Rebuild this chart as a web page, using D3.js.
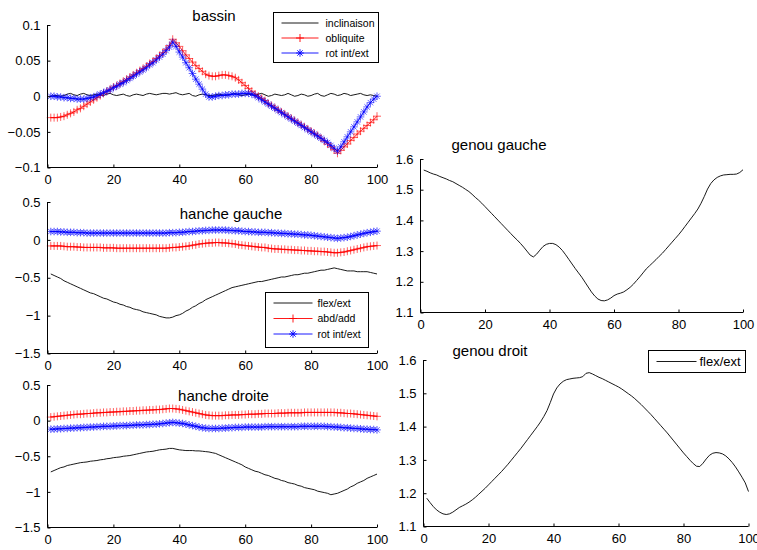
<!DOCTYPE html>
<html><head><meta charset="utf-8">
<script src="https://cdn.jsdelivr.net/npm/d3@7"></script>
<style>
body{margin:0;background:#fff}
svg{display:block}
text{font-family:"Liberation Sans",Arial,Helvetica,sans-serif;fill:#000}
</style>
</head><body>
<svg id="c" width="757" height="550"></svg>
<script>
// ---------------- DATA ----------------
const xTicks = [0, 20, 40, 60, 80, 100];
const xTickLabels = ["0", "20", "40", "60", "80", "100"];

const bassinTicks = [-0.1, -0.05, 0, 0.05, 0.1];
const bassinTickLabels = ["\u22120.1", "\u22120.05", "0", "0.05", "0.1"];
const hancheTicks = [-1.5, -1, -0.5, 0, 0.5];
const hancheTickLabels = ["\u22121.5", "\u22121", "\u22120.5", "0", "0.5"];
const genouTicks = [1.1, 1.2, 1.3, 1.4, 1.5, 1.6];
const genouTickLabels = ["1.1", "1.2", "1.3", "1.4", "1.5", "1.6"];

const titles = ["bassin", "hanche gauche", "hanche droite", "genou gauche", "genou droit"];
const bassinLegend = ["inclinaison", "obliquite", "rot int/ext"];
const hancheLegend = ["flex/ext", "abd/add", "rot int/ext"];
const genouLegend = ["flex/ext"];

// bassin (x = 1..100)
const bassinInclinaison = [0.000,0.001,0.001,0.000,0.001,0.003,0.004,0.002,0.001,0.003,
 0.004,0.002,0.001,0.002,0.003,0.002,0.001,0.003,0.004,0.002,
 0.001,0.002,0.003,0.001,0.000,0.002,0.003,0.002,0.001,0.003,
 0.004,0.003,0.002,0.003,0.004,0.004,0.003,0.004,0.005,0.003,
 0.002,0.003,0.004,0.001,0.000,0.002,0.003,0.002,0.001,0.001,
 0.002,0.003,0.002,0.001,0.002,0.003,0.004,0.002,0.001,0.002,
 0.003,0.002,0.001,0.003,0.004,0.002,0.000,0.001,0.003,0.002,
 0.001,0.002,0.004,0.002,0.000,0.001,0.003,0.002,0.000,0.001,
 0.003,0.004,0.001,0.000,0.002,0.004,0.003,0.001,0.002,0.004,
 0.003,0.001,0.002,0.003,0.004,0.002,0.001,0.002,0.001,0.000];
const bassinObliquite = [-0.030,-0.030,-0.030,-0.029,-0.028,-0.026,-0.024,-0.022,-0.019,-0.017,
 -0.014,-0.011,-0.008,-0.005,-0.002,0.001,0.004,0.007,0.010,0.013,
 0.015,0.018,0.021,0.024,0.027,0.030,0.033,0.036,0.039,0.042,
 0.046,0.049,0.053,0.057,0.061,0.066,0.071,0.080,0.075,0.070,
 0.064,0.058,0.053,0.048,0.043,0.039,0.035,0.031,0.029,0.028,
 0.028,0.029,0.030,0.030,0.029,0.028,0.026,0.023,0.019,0.015,
 0.011,0.007,0.003,0.000,-0.003,-0.006,-0.010,-0.013,-0.016,-0.019,
 -0.022,-0.025,-0.028,-0.031,-0.034,-0.037,-0.040,-0.043,-0.046,-0.049,
 -0.052,-0.055,-0.059,-0.063,-0.067,-0.071,-0.075,-0.080,-0.076,-0.071,
 -0.067,-0.062,-0.058,-0.053,-0.049,-0.045,-0.041,-0.037,-0.033,-0.028];
const bassinRot = [0.000,0.000,-0.001,-0.001,-0.002,-0.002,-0.003,-0.003,-0.004,-0.004,
 -0.004,-0.003,-0.002,-0.001,0.001,0.003,0.005,0.007,0.009,0.012,
 0.014,0.017,0.019,0.022,0.025,0.028,0.031,0.034,0.037,0.040,
 0.044,0.047,0.051,0.055,0.059,0.064,0.069,0.076,0.070,0.062,
 0.055,0.047,0.040,0.032,0.024,0.017,0.010,0.003,-0.001,-0.001,
 0.000,0.001,0.001,0.002,0.002,0.003,0.003,0.003,0.004,0.004,
 0.004,0.003,0.001,-0.002,-0.005,-0.008,-0.011,-0.014,-0.017,-0.020,
 -0.023,-0.026,-0.029,-0.032,-0.035,-0.038,-0.041,-0.044,-0.047,-0.050,
 -0.053,-0.056,-0.059,-0.062,-0.065,-0.069,-0.073,-0.077,-0.071,-0.064,
 -0.057,-0.050,-0.043,-0.036,-0.029,-0.022,-0.015,-0.009,-0.004,0.000];

// hanche gauche
const hgFlex = [-0.45,-0.47,-0.49,-0.51,-0.54,-0.56,-0.58,-0.60,-0.62,-0.64,
 -0.66,-0.68,-0.70,-0.71,-0.73,-0.75,-0.77,-0.78,-0.80,-0.82,
 -0.83,-0.85,-0.86,-0.88,-0.89,-0.91,-0.92,-0.93,-0.95,-0.96,
 -0.97,-0.98,-0.99,-1.01,-1.02,-1.03,-1.03,-1.02,-1.00,-0.99,
 -0.97,-0.94,-0.92,-0.89,-0.87,-0.84,-0.82,-0.79,-0.77,-0.75,
 -0.73,-0.71,-0.69,-0.67,-0.65,-0.63,-0.62,-0.61,-0.60,-0.59,
 -0.58,-0.57,-0.56,-0.55,-0.55,-0.54,-0.53,-0.52,-0.51,-0.50,
 -0.49,-0.49,-0.48,-0.47,-0.46,-0.46,-0.45,-0.44,-0.44,-0.43,
 -0.42,-0.41,-0.40,-0.40,-0.39,-0.38,-0.37,-0.38,-0.39,-0.40,
 -0.41,-0.41,-0.41,-0.42,-0.42,-0.42,-0.42,-0.43,-0.44,-0.45];
const hgAbd = [-0.08,-0.08,-0.08,-0.08,-0.085,-0.09,-0.09,-0.09,-0.095,-0.095,
 -0.10,-0.10,-0.10,-0.10,-0.10,-0.10,-0.105,-0.105,-0.105,-0.105,
 -0.11,-0.11,-0.11,-0.11,-0.11,-0.11,-0.11,-0.11,-0.11,-0.11,
 -0.11,-0.11,-0.11,-0.11,-0.11,-0.11,-0.105,-0.10,-0.10,-0.095,
 -0.09,-0.085,-0.08,-0.07,-0.065,-0.055,-0.05,-0.045,-0.04,-0.04,
 -0.035,-0.035,-0.04,-0.04,-0.045,-0.05,-0.055,-0.065,-0.07,-0.075,
 -0.08,-0.085,-0.09,-0.095,-0.10,-0.10,-0.11,-0.115,-0.12,-0.12,
 -0.125,-0.125,-0.13,-0.13,-0.135,-0.135,-0.14,-0.14,-0.145,-0.145,
 -0.15,-0.15,-0.155,-0.155,-0.16,-0.165,-0.17,-0.17,-0.165,-0.16,
 -0.15,-0.14,-0.13,-0.12,-0.11,-0.10,-0.09,-0.085,-0.08,-0.075];
const hgRot = [0.11,0.11,0.11,0.105,0.105,0.10,0.10,0.10,0.095,0.095,
 0.095,0.09,0.09,0.09,0.09,0.09,0.09,0.09,0.09,0.09,
 0.09,0.09,0.09,0.09,0.09,0.09,0.09,0.09,0.09,0.09,
 0.09,0.09,0.09,0.09,0.09,0.09,0.095,0.095,0.095,0.10,
 0.10,0.105,0.11,0.11,0.115,0.12,0.12,0.125,0.125,0.13,
 0.13,0.13,0.13,0.13,0.125,0.125,0.12,0.12,0.115,0.11,
 0.11,0.105,0.105,0.10,0.10,0.10,0.095,0.095,0.09,0.09,
 0.085,0.085,0.08,0.08,0.075,0.075,0.07,0.065,0.065,0.06,
 0.055,0.05,0.045,0.04,0.035,0.03,0.025,0.02,0.025,0.03,
 0.035,0.045,0.055,0.065,0.075,0.085,0.095,0.10,0.11,0.115];

// hanche droite
const hdFlex = [-0.72,-0.70,-0.68,-0.66,-0.65,-0.63,-0.62,-0.61,-0.60,-0.59,
 -0.585,-0.58,-0.57,-0.565,-0.56,-0.55,-0.545,-0.535,-0.53,-0.52,
 -0.515,-0.51,-0.50,-0.495,-0.49,-0.48,-0.47,-0.46,-0.45,-0.44,
 -0.435,-0.43,-0.42,-0.41,-0.405,-0.40,-0.39,-0.39,-0.40,-0.41,
 -0.415,-0.42,-0.42,-0.42,-0.425,-0.425,-0.43,-0.435,-0.44,-0.45,
 -0.46,-0.48,-0.50,-0.52,-0.54,-0.56,-0.58,-0.60,-0.62,-0.65,
 -0.67,-0.69,-0.71,-0.72,-0.74,-0.76,-0.77,-0.79,-0.81,-0.82,
 -0.84,-0.85,-0.87,-0.88,-0.89,-0.91,-0.92,-0.94,-0.95,-0.96,
 -0.97,-0.99,-1.00,-1.01,-1.02,-1.04,-1.03,-1.02,-1.00,-0.98,
 -0.96,-0.93,-0.91,-0.88,-0.86,-0.84,-0.81,-0.79,-0.77,-0.75];
const hdAbd = [0.05,0.055,0.06,0.065,0.07,0.075,0.08,0.085,0.09,0.09,
 0.095,0.10,0.10,0.105,0.11,0.11,0.115,0.115,0.12,0.12,
 0.125,0.125,0.13,0.13,0.135,0.135,0.14,0.14,0.145,0.145,
 0.15,0.15,0.155,0.155,0.16,0.165,0.17,0.17,0.165,0.16,
 0.15,0.14,0.13,0.12,0.11,0.10,0.09,0.08,0.075,0.07,
 0.07,0.07,0.07,0.075,0.075,0.08,0.08,0.08,0.085,0.085,
 0.09,0.09,0.09,0.095,0.095,0.10,0.10,0.10,0.10,0.105,
 0.105,0.105,0.11,0.11,0.11,0.11,0.11,0.115,0.115,0.115,
 0.115,0.115,0.115,0.115,0.115,0.115,0.115,0.11,0.11,0.105,
 0.10,0.10,0.095,0.09,0.085,0.08,0.075,0.07,0.065,0.06];
const hdRot = [-0.12,-0.12,-0.115,-0.115,-0.11,-0.11,-0.105,-0.105,-0.10,-0.10,
 -0.095,-0.095,-0.09,-0.09,-0.085,-0.085,-0.08,-0.08,-0.08,-0.075,
 -0.075,-0.07,-0.07,-0.07,-0.065,-0.065,-0.06,-0.06,-0.06,-0.055,
 -0.055,-0.05,-0.05,-0.045,-0.04,-0.035,-0.03,-0.025,-0.03,-0.035,
 -0.04,-0.05,-0.06,-0.07,-0.08,-0.09,-0.10,-0.105,-0.11,-0.11,
 -0.11,-0.11,-0.105,-0.105,-0.10,-0.10,-0.095,-0.095,-0.095,-0.09,
 -0.09,-0.09,-0.09,-0.09,-0.09,-0.085,-0.085,-0.085,-0.085,-0.085,
 -0.085,-0.085,-0.085,-0.085,-0.085,-0.085,-0.08,-0.08,-0.08,-0.08,
 -0.08,-0.08,-0.08,-0.08,-0.085,-0.085,-0.09,-0.09,-0.095,-0.10,
 -0.10,-0.105,-0.11,-0.11,-0.115,-0.12,-0.12,-0.125,-0.125,-0.13];

// genou gauche
const ggFlex = [1.564,1.560,1.555,1.551,1.548,1.543,1.539,1.535,1.530,1.526,
 1.520,1.514,1.508,1.501,1.494,1.485,1.475,1.466,1.456,1.445,
 1.434,1.423,1.412,1.401,1.390,1.379,1.368,1.357,1.346,1.336,
 1.325,1.313,1.300,1.287,1.281,1.290,1.303,1.315,1.322,1.325,
 1.325,1.321,1.313,1.302,1.288,1.273,1.258,1.243,1.229,1.215,
 1.199,1.183,1.167,1.154,1.144,1.139,1.138,1.141,1.147,1.155,
 1.160,1.163,1.167,1.174,1.182,1.192,1.204,1.216,1.229,1.242,
 1.252,1.262,1.272,1.283,1.293,1.305,1.317,1.329,1.341,1.353,
 1.366,1.380,1.394,1.408,1.422,1.437,1.456,1.478,1.502,1.520,
 1.532,1.540,1.545,1.548,1.549,1.550,1.550,1.551,1.556,1.565];
// genou droit
const gdFlex = [1.185,1.172,1.160,1.150,1.143,1.138,1.136,1.138,1.143,1.150,
 1.157,1.162,1.167,1.173,1.180,1.188,1.197,1.206,1.215,1.225,
 1.235,1.245,1.255,1.265,1.276,1.287,1.299,1.311,1.323,1.335,
 1.348,1.361,1.374,1.387,1.400,1.414,1.430,1.448,1.472,1.498,
 1.516,1.528,1.536,1.541,1.543,1.545,1.546,1.547,1.550,1.560,
 1.562,1.558,1.553,1.548,1.544,1.539,1.534,1.529,1.524,1.519,
 1.513,1.506,1.499,1.492,1.484,1.475,1.466,1.456,1.446,1.436,
 1.425,1.414,1.403,1.392,1.381,1.369,1.357,1.345,1.333,1.321,
 1.310,1.299,1.289,1.281,1.280,1.290,1.303,1.314,1.320,1.322,
 1.321,1.318,1.312,1.303,1.292,1.279,1.264,1.248,1.231,1.205];

// ---------------- DRAWING ----------------
const svg = d3.select("#c");
const FONT_TICK = 13;
const COLORS = ["#000000", "#ff0000", "#0000ff"];
const MARKERS = [null, "plus", "star"];

function markerPath(type) {
  if (type === "plus") return "M-4,0H4M0,-4V4";
  if (type === "star") return "M-3.8,0H3.8M0,-3.8V3.8M-2.7,-2.7L2.7,2.7M-2.7,2.7L2.7,-2.7";
  return null;
}

function panel(cfg) {
  const x = d3.scaleLinear().domain([0, 100]).range([cfg.x0, cfg.x1]);
  const y = d3.scaleLinear().domain(cfg.yDomain).range([cfg.y1, cfg.y0]);
  const g = svg.append("g");

  cfg.series.forEach((s) => {
    const pts = s.values.map((v, i) => [i + 1, v]);
    const line = d3.line().x(d => x(d[0])).y(d => y(d[1]));
    g.append("path").attr("d", line(pts)).attr("fill", "none")
      .attr("stroke", s.color).attr("stroke-width", 0.9);
    if (s.marker) {
      g.append("g").selectAll("path").data(pts).join("path")
        .attr("transform", d => `translate(${x(d[0])},${y(d[1])})`)
        .attr("d", markerPath(s.marker))
        .attr("fill", "none").attr("stroke", s.color)
        .attr("stroke-width", 0.9).attr("stroke-opacity", 0.7);
    }
  });

  const xAxis = d3.axisBottom(x).tickValues(xTicks).tickSize(-3).tickPadding(7)
    .tickFormat((d, i) => xTickLabels[i]);
  const yAxis = d3.axisLeft(y).tickValues(cfg.yTicks).tickSize(-3).tickPadding(7)
    .tickFormat((d, i) => cfg.yTickLabels[i]);
  const gx = g.append("g").attr("transform", `translate(0,${cfg.y1})`).call(xAxis);
  const gy = g.append("g").attr("transform", `translate(${cfg.x0},0)`).call(yAxis);
  [gx, gy].forEach(a => {
    a.select(".domain").attr("stroke", "#000").attr("stroke-width", 1);
    a.selectAll(".tick line").attr("stroke", "#000");
    a.selectAll("text").style("font-size", FONT_TICK + "px")
      .style("font-family", '"Liberation Sans",Arial,sans-serif').attr("fill", "#000");
  });
  gx.select(".domain").attr("d", `M${cfg.x0},0H${cfg.x1}`);
  gy.select(".domain").attr("d", `M0,${cfg.y0}V${cfg.y1}`);

  g.append("text").attr("x", cfg.titleX).attr("y", cfg.titleY)
    .attr("text-anchor", "middle").style("font-size", "15px").text(cfg.title);

  if (cfg.legend) {
    const L = cfg.legend;
    g.append("rect").attr("x", L.x).attr("y", L.y).attr("width", L.w).attr("height", L.h)
      .attr("fill", "#fff").attr("stroke", "#000").attr("stroke-width", 1);
    L.labels.forEach((lab, i) => {
      const s = cfg.series[i];
      const yy = L.y + L.first + i * L.step;
      g.append("line").attr("x1", L.x + L.lx0).attr("x2", L.x + L.lx1)
        .attr("y1", yy).attr("y2", yy).attr("stroke", s.color).attr("stroke-width", 0.9);
      if (s.marker) {
        g.append("path").attr("transform", `translate(${L.x + (L.lx0 + L.lx1) / 2},${yy})`)
          .attr("d", markerPath(s.marker)).attr("fill", "none")
          .attr("stroke", s.color).attr("stroke-width", 0.9);
      }
      g.append("text").attr("x", L.x + L.tx).attr("y", yy).attr("dy", "0.35em")
        .style("font-size", L.fs + "px").text(lab);
    });
  }
}

panel({
  x0: 47.5, x1: 377, y0: 25, y1: 167.5, yDomain: [-0.1, 0.1],
  yTicks: bassinTicks, yTickLabels: bassinTickLabels,
  title: titles[0], titleX: 214, titleY: 20.5,
  series: [
    {values: bassinInclinaison, color: COLORS[0], marker: MARKERS[0]},
    {values: bassinObliquite, color: COLORS[1], marker: MARKERS[1]},
    {values: bassinRot, color: COLORS[2], marker: MARKERS[2]}
  ],
  legend: {x: 273.5, y: 12.5, w: 105, h: 50, first: 10.5, step: 15, lx0: 8, lx1: 45, tx: 52, fs: 10.5, labels: bassinLegend}
});

panel({
  x0: 47.5, x1: 377, y0: 202, y1: 353.5, yDomain: [-1.5, 0.5],
  yTicks: hancheTicks, yTickLabels: hancheTickLabels,
  title: titles[1], titleX: 231, titleY: 219,
  series: [
    {values: hgFlex, color: COLORS[0], marker: MARKERS[0]},
    {values: hgAbd, color: COLORS[1], marker: MARKERS[1]},
    {values: hgRot, color: COLORS[2], marker: MARKERS[2]}
  ],
  legend: {x: 265.5, y: 292.5, w: 103, h: 55, first: 10.5, step: 15.5, lx0: 8, lx1: 47, tx: 52, fs: 10.5, labels: hancheLegend}
});

panel({
  x0: 47.5, x1: 377, y0: 385, y1: 527.5, yDomain: [-1.5, 0.5],
  yTicks: hancheTicks, yTickLabels: hancheTickLabels,
  title: titles[2], titleX: 223.5, titleY: 400.5,
  series: [
    {values: hdFlex, color: COLORS[0], marker: MARKERS[0]},
    {values: hdAbd, color: COLORS[1], marker: MARKERS[1]},
    {values: hdRot, color: COLORS[2], marker: MARKERS[2]}
  ]
});

panel({
  x0: 420.5, x1: 743, y0: 159, y1: 312.5, yDomain: [1.1, 1.6],
  yTicks: genouTicks, yTickLabels: genouTickLabels,
  title: titles[3], titleX: 499, titleY: 150,
  series: [{values: ggFlex, color: COLORS[0], marker: null}]
});

panel({
  x0: 423.5, x1: 748.5, y0: 360, y1: 526.5, yDomain: [1.1, 1.6],
  yTicks: genouTicks, yTickLabels: genouTickLabels,
  title: titles[4], titleX: 490, titleY: 356,
  series: [{values: gdFlex, color: COLORS[0], marker: null}],
  legend: {x: 648.5, y: 350.5, w: 97, h: 22, first: 11, step: 0, lx0: 8, lx1: 48, tx: 51, fs: 13, labels: genouLegend}
});
</script>
</body></html>
